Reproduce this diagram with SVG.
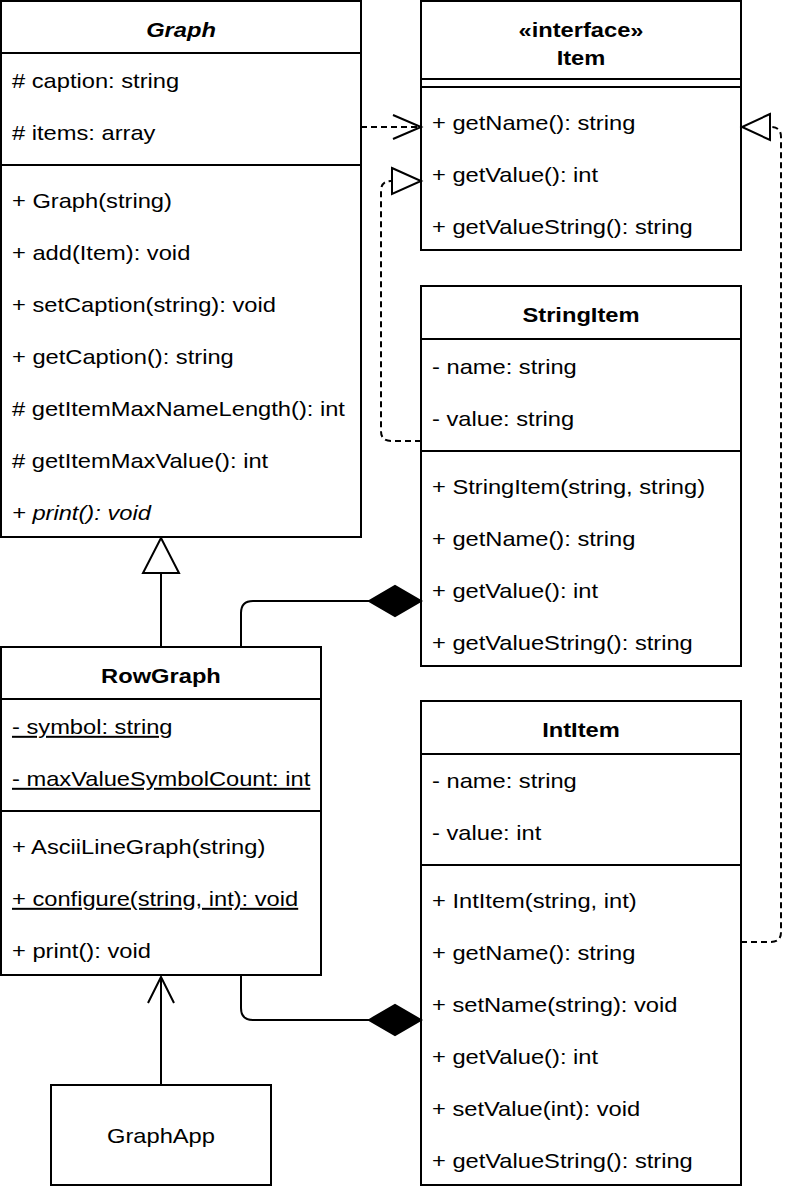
<svg xmlns="http://www.w3.org/2000/svg" width="810" height="1192" viewBox="0 0 810 1192">
<style>
  .box{fill:#fff;stroke:#000;stroke-width:2}
  .ln{stroke:#000;stroke-width:2;fill:none}
  .dash{stroke:#000;stroke-width:2;fill:none;stroke-dasharray:6 4}
  .tx{transform:scale(1.185,1)}
  text{font-family:"Liberation Sans",Arial,sans-serif;font-size:20px;fill:#000}
  .h{font-weight:bold;text-anchor:middle}
  .c{text-anchor:middle}
  .u{text-decoration:underline}
  .i{font-style:italic}
</style>
<rect width="810" height="1192" fill="#fff"/>

<g id="Graph">
  <rect class="box" x="1" y="1" width="360" height="536"/>
  <line class="ln" x1="1" y1="53" x2="361" y2="53"/>
  <line class="ln" x1="1" y1="165" x2="361" y2="165"/>
  <g class="tx">
    <text class="h i" x="152.74" y="37">Graph</text>
    <text x="10.13" y="88"># caption: string</text>
    <text x="10.13" y="140"># items: array</text>
    <text x="10.13" y="208">+ Graph(string)</text>
    <text x="10.13" y="260">+ add(Item): void</text>
    <text x="10.13" y="312">+ setCaption(string): void</text>
    <text x="10.13" y="364">+ getCaption(): string</text>
    <text x="10.13" y="416"># getItemMaxNameLength(): int</text>
    <text x="10.13" y="468"># getItemMaxValue(): int</text>
    <text class="i" x="10.13" y="520">+ print(): void</text>
  </g>
</g>

<g id="Item">
  <rect class="box" x="421" y="1" width="320" height="249"/>
  <line class="ln" x1="421" y1="79" x2="741" y2="79"/>
  <line class="ln" x1="421" y1="87" x2="741" y2="87"/>
  <g class="tx">
    <text class="h" x="490.3" y="37">«interface»</text>
    <text class="h" x="490.3" y="65">Item</text>
    <text x="364.56" y="130">+ getName(): string</text>
    <text x="364.56" y="182">+ getValue(): int</text>
    <text x="364.56" y="234">+ getValueString(): string</text>
  </g>
</g>

<g id="StringItem">
  <rect class="box" x="421" y="286" width="320" height="380"/>
  <line class="ln" x1="421" y1="339" x2="741" y2="339"/>
  <line class="ln" x1="421" y1="451" x2="741" y2="451"/>
  <g class="tx">
    <text class="h" x="490.3" y="322">StringItem</text>
    <text x="364.56" y="374">- name: string</text>
    <text x="364.56" y="426">- value: string</text>
    <text x="364.56" y="494">+ StringItem(string, string)</text>
    <text x="364.56" y="546">+ getName(): string</text>
    <text x="364.56" y="598">+ getValue(): int</text>
    <text x="364.56" y="650">+ getValueString(): string</text>
  </g>
</g>

<g id="IntItem">
  <rect class="box" x="421" y="701" width="320" height="484"/>
  <line class="ln" x1="421" y1="754" x2="741" y2="754"/>
  <line class="ln" x1="421" y1="865" x2="741" y2="865"/>
  <g class="tx">
    <text class="h" x="490.3" y="737">IntItem</text>
    <text x="364.56" y="788">- name: string</text>
    <text x="364.56" y="840">- value: int</text>
    <text x="364.56" y="908">+ IntItem(string, int)</text>
    <text x="364.56" y="960">+ getName(): string</text>
    <text x="364.56" y="1012">+ setName(string): void</text>
    <text x="364.56" y="1064">+ getValue(): int</text>
    <text x="364.56" y="1116">+ setValue(int): void</text>
    <text x="364.56" y="1168">+ getValueString(): string</text>
  </g>
</g>

<g id="RowGraph">
  <rect class="box" x="1" y="647" width="320" height="328"/>
  <line class="ln" x1="1" y1="699" x2="321" y2="699"/>
  <line class="ln" x1="1" y1="811" x2="321" y2="811"/>
  <g class="tx">
    <text class="h" x="135.86" y="683">RowGraph</text>
    <text class="u" x="10.13" y="734">- symbol: string</text>
    <text class="u" x="10.13" y="786">- maxValueSymbolCount: int</text>
    <text x="10.13" y="854">+ AsciiLineGraph(string)</text>
    <text class="u" x="10.13" y="906">+ configure(string, int): void</text>
    <text x="10.13" y="958">+ print(): void</text>
  </g>
</g>

<g id="GraphApp">
  <rect class="box" x="51" y="1085" width="220" height="100"/>
  <g class="tx">
    <text class="c" x="135.86" y="1143">GraphApp</text>
  </g>
</g>

<g id="connectors">
  <!-- Graph uses Item (dependency) -->
  <line class="dash" x1="361" y1="127" x2="419" y2="127"/>
  <polyline class="ln" points="393,115 421,127 393,139"/>
  <!-- StringItem realizes Item -->
  <path class="dash" d="M421,441 H391 Q381,441 381,431 V191 Q381,181 391,181 H392"/>
  <polygon class="box" points="392,168 421,181 392,194"/>
  <!-- IntItem realizes Item -->
  <path class="dash" d="M741,942 H771 Q781,942 781,932 V137 Q781,127 771,127 H770"/>
  <polygon class="box" points="770,114 742,127 770,140"/>
  <!-- RowGraph extends Graph -->
  <line class="ln" x1="161" y1="647" x2="161" y2="573"/>
  <polygon class="box" points="161,538 143,573 179,573"/>
  <!-- RowGraph composition StringItem -->
  <path class="ln" d="M241,647 V613 Q241,601 253,601 H369"/>
  <polygon points="369,601 395,586 421,601 395,616" fill="#000" stroke="#000" stroke-width="2"/>
  <!-- RowGraph composition IntItem -->
  <path class="ln" d="M241,975 V1008 Q241,1020 253,1020 H369"/>
  <polygon points="369,1020 395,1005 421,1020 395,1035" fill="#000" stroke="#000" stroke-width="2"/>
  <!-- GraphApp uses RowGraph -->
  <line class="ln" x1="161" y1="1085" x2="161" y2="977"/>
  <polyline class="ln" points="148,1003 161,977 174,1003"/>
</g>
</svg>
